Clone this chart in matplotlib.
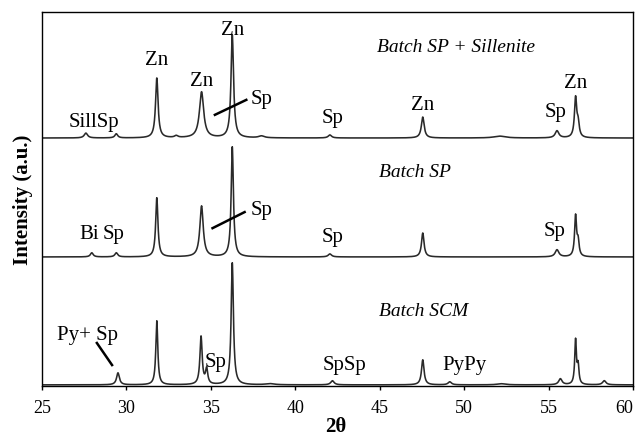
import matplotlib
matplotlib.use("Agg")
import matplotlib.pyplot as plt
import numpy as np

plt.rcParams['font.family'] = ['Liberation Serif', 'DejaVu Serif']

# peak lists: position (2theta), height (a.u.), half width
top_pos = [27.6, 29.4, 31.8, 32.95, 34.45, 36.27, 38.0, 42.05, 47.55, 52.1, 55.5, 56.6, 56.75]
top_h = [1.3, 1.1, 16.0, 0.5, 12.3, 27.5, 0.5, 0.8, 5.6, 0.5, 1.9, 10.5, 3.5]
top_w = [0.12, 0.1, 0.09, 0.12, 0.15, 0.09, 0.2, 0.12, 0.1, 0.4, 0.13, 0.08, 0.08]
top_base = 66.3

mid_pos = [27.95, 29.4, 31.8, 34.45, 36.27, 42.05, 47.55, 55.5, 56.6, 56.75]
mid_h = [1.1, 1.1, 15.8, 13.6, 29.4, 0.8, 6.4, 1.9, 10.8, 3.8]
mid_w = [0.1, 0.1, 0.08, 0.12, 0.08, 0.12, 0.09, 0.13, 0.07, 0.07]
mid_base = 34.5

bot_pos = [29.5, 31.8, 34.42, 34.75, 36.27, 38.5, 42.2, 47.55, 49.15, 52.2, 55.7, 56.6, 56.75, 58.3]
bot_h = [3.2, 17.1, 12.8, 4.0, 32.6, 0.3, 1.1, 6.7, 0.8, 0.3, 1.6, 11.8, 4.8, 1.1]
bot_w = [0.1, 0.07, 0.08, 0.08, 0.08, 0.3, 0.12, 0.09, 0.12, 0.3, 0.12, 0.06, 0.06, 0.12]
bot_base = 0.3

theta = np.linspace(25, 60, 3501)


def pattern(pos, h, w, base):
    y = np.full_like(theta, base)
    for c, a, s in zip(pos, h, w):
        y += a / (1 + ((theta - c) / s) ** 2)
    return y


fig = plt.figure(figsize=(6.39, 4.42), dpi=100)
ax = fig.add_axes([0.0657, 0.1267, 0.9249, 0.8462])

for pos, h, w, base in [(top_pos, top_h, top_w, top_base),
                        (mid_pos, mid_h, mid_w, mid_base),
                        (bot_pos, bot_h, bot_w, bot_base)]:
    ax.plot(theta, pattern(pos, h, w, base), color='#2a2a2a', lw=1.15)

ax.set_xlim(25, 60)
ax.set_ylim(0, 100)
ax.set_xticks([25, 30, 35, 40, 45, 50, 55, 60])
ax.set_yticks([])
ax.tick_params(axis='x', direction='out', length=3, width=1, pad=7, labelsize=13)
ax.get_xticklabels()[-1].set_ha('right')
for sp in ax.spines.values():
    sp.set_linewidth(1.0)

fs = 15
fi = 14
# top pattern labels
ax.text(28.1, 70.4, 'SillSp', fontsize=fs, ha='center', va='center')
ax.text(31.8, 87.0, 'Zn', fontsize=fs, ha='center', va='center')
ax.text(34.45, 81.3, 'Zn', fontsize=fs, ha='center', va='center')
ax.text(36.27, 95.0, 'Zn', fontsize=fs, ha='center', va='center')
ax.text(38.0, 76.7, 'Sp', fontsize=fs, ha='center', va='center')
ax.plot([35.24, 37.1], [72.5, 76.5], color='black', lw=1.8)
ax.text(42.2, 71.6, 'Sp', fontsize=fs, ha='center', va='center')
ax.text(47.55, 74.9, 'Zn', fontsize=fs, ha='center', va='center')
ax.text(55.4, 73.0, 'Sp', fontsize=fs, ha='center', va='center')
ax.text(56.6, 81.0, 'Zn', fontsize=fs, ha='center', va='center')
ax.text(49.5, 90.4, 'Batch SP + Sillenite', fontsize=fi, style='italic', ha='center', va='center')

# middle pattern labels
ax.text(47.1, 57.0, 'Batch SP', fontsize=fi, style='italic', ha='center', va='center')
ax.text(38.0, 47.0, 'Sp', fontsize=fs, ha='center', va='center')
ax.plot([35.1, 37.0], [42.2, 46.5], color='black', lw=1.8)
ax.text(27.8, 40.4, 'Bi', fontsize=fs, ha='center', va='center')
ax.text(29.25, 40.4, 'Sp', fontsize=fs, ha='center', va='center')
ax.text(42.2, 39.8, 'Sp', fontsize=fs, ha='center', va='center')
ax.text(55.35, 41.2, 'Sp', fontsize=fs, ha='center', va='center')

# bottom pattern labels
ax.text(47.6, 19.8, 'Batch SCM', fontsize=fi, style='italic', ha='center', va='center')
ax.text(27.7, 13.6, 'Py+ Sp', fontsize=fs, ha='center', va='center')
ax.plot([28.25, 29.15], [11.5, 5.6], color='black', lw=1.8)
ax.text(35.3, 6.4, 'Sp', fontsize=fs, ha='center', va='center')
ax.text(42.9, 5.6, 'SpSp', fontsize=fs, ha='center', va='center')
ax.text(50.0, 5.6, 'PyPy', fontsize=fs, ha='center', va='center')

fig.text(23 / 639, 1 - 199.5 / 442, 'Intensity (a.u.)', rotation=90, fontsize=15,
         fontweight='bold', ha='center', va='center')
fig.text(336 / 639, 1 - 427 / 442, '2θ', fontsize=15, fontweight='bold', ha='center', va='center')

fig.savefig('out.png', dpi=100)
